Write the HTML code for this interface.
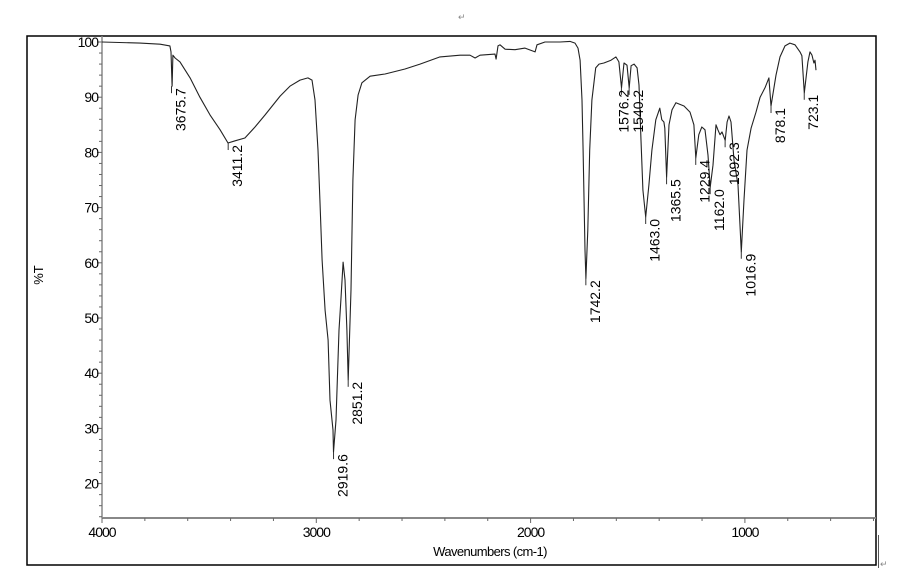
<!DOCTYPE html>
<html><head><meta charset="utf-8"><style>
html,body{margin:0;padding:0;background:#fff;}
svg{display:block;font-family:"Liberation Sans",sans-serif;}
</style></head><body>
<svg id="chart" width="900" height="569" viewBox="0 0 900 569">
<text x="458" y="20" font-size="9" fill="#888">↵</text>
<rect x="27" y="36" width="849" height="529" fill="none" stroke="#000" stroke-width="1.5"/>
<line x1="878.5" y1="535" x2="878.5" y2="568" stroke="#555" stroke-width="1"/>
<text x="880" y="567" font-size="9" fill="#888">↵</text>
<g id="axes"></g>
<g id="series"></g>
<g id="labels"></g>
<text x="490" y="556" font-size="13" text-anchor="middle" letter-spacing="-0.6">Wavenumbers (cm-1)</text>
<text transform="translate(43,275) rotate(-90)" font-size="13" text-anchor="middle">%T</text>
</svg>
<script>
const xTicks=[4000,3000,2000,1000];
const yTicks=[100,90,80,70,60,50,40,30,20];
const wavenumbers=[4000,3823,3729,3683,3678,3673,3669,3659,3636,3589,3543,3496,3449,3412,3379,3333,3286,3239,3169,3123,3076,3039,3020,3006,2992,2983,2973,2959,2945,2936,2922,2919.6,2908,2894,2885,2875,2866,2857,2851,2838,2829,2819,2805,2787,2749,2679,2586,2516,2423,2329,2283,2259,2236,2166,2161,2152,2143,2119,2073,2026,1979,1970,1933,1863,1816,1793,1779,1769,1760,1755,1746,1742,1733,1724,1714,1696,1681,1658,1625,1602,1588,1576,1564,1550,1540,1531,1517,1503,1494,1485,1476,1463,1448,1434,1416,1397,1388,1378,1374,1365.5,1354,1340,1322,1284,1256,1238,1229,1215,1201,1186,1172,1162,1149,1135,1126,1116,1107,1092,1083,1074,1065,1051,1032,1017,1004,990,971,948,929,906,888,878,855,836,813,790,766,743,734,723,706,696,687,678,673,668];
const transmittance=[100,99.8,99.6,99.3,98.2,92.0,97.6,97.1,96.4,93.5,90.0,86.8,84.1,81.7,82.1,82.6,84.6,86.8,90.2,92.0,93.1,93.5,93.1,89.5,80.4,71.4,60.5,51.4,46.0,35.1,29.7,25.7,31.5,47.8,53.3,60.1,56.9,47.8,38.8,55.1,75.0,85.9,90.4,92.6,93.8,94.2,95.1,96.0,97.3,97.6,97.6,97.1,97.6,97.8,96.9,99.3,99.5,98.7,98.6,98.9,98.2,99.5,100,100,100.1,99.8,98.9,96.7,89.5,80.4,62.3,57.2,65.9,80.4,89.5,95.3,96.0,96.2,96.7,97.3,96.4,91.7,96.2,95.8,91.7,95.7,96.0,95.3,92.2,82.2,73.2,68.3,74.1,80.4,85.9,88.0,85.9,85.5,84.4,75.5,85.0,87.7,89.0,88.4,87.3,85.0,79.0,83.2,84.6,84.1,79.5,73.7,77.7,85.0,84.1,83.2,83.7,82.2,85.5,86.6,85.5,78.6,74.1,62.0,71.4,80.4,84.4,87.3,90.0,91.7,93.5,88.4,94.0,97.3,99.3,99.8,99.5,98.2,97.5,90.8,96.4,98.2,97.6,96.2,96.7,94.9];
const peakLabels=["3675.7","3411.2","2919.6","2851.2","1742.2","1576.2","1540.2","1463.0","1365.5","1229.4","1162.0","1092.3","1016.9","878.1","723.1"];
const peakWn=[3675.7,3411.2,2919.6,2851.2,1742.2,1576.2,1540.2,1463.0,1365.5,1229.4,1162.0,1092.3,1016.9,878.1,723.1];
const peakT=[92.0,81.7,25.7,38.8,57.2,91.7,91.7,68.3,75.5,79.0,73.7,82.2,62.0,88.4,90.8];
const labelNudge=[0,0,0,0,0,-7,0,0,0,0,0,0,0,0,0];

const NS="http://www.w3.org/2000/svg";
const X0=102,X1=876,Y0=36,Y1=518;
function xs(w){return 102+(4000-w)*0.2143;}
function ys(t){return 42+(100-t)*5.52;}
function mk(tag,attrs,parent){const e=document.createElementNS(NS,tag);for(const k in attrs)e.setAttribute(k,attrs[k]);parent.appendChild(e);return e;}
const axes=document.getElementById('axes');
let l=mk('line',{x1:X0,y1:Y0,x2:X0,y2:Y1,stroke:'#888','stroke-width':1.5},axes);


l=mk('line',{x1:X0,y1:Y1,x2:X1,y2:Y1,stroke:'#888','stroke-width':2},axes);


for(let t=14;t<=100;t+=2){
  const y=ys(t);const major=t%10===0;
  const tk=mk('line',{x1:X0-(major?5:3),y1:y,x2:X0,y2:y,stroke:'#666','stroke-width':1},axes);
  
  
}
for(let w=4000;w>=400;w-=200){
  const x=xs(w);const major=w%1000===0;
  const tk=mk('line',{x1:x,y1:Y1,x2:x,y2:Y1+(major?5:3),stroke:'#666','stroke-width':1},axes);
  
  
}
yTicks.forEach(t=>{
  const tx=mk('text',{x:X0-4,y:ys(t)+5,'font-size':14,'text-anchor':'end','letter-spacing':-1},axes);
  tx.textContent=t;
  
  
});
xTicks.forEach(w=>{
  const tx=mk('text',{x:xs(w),y:537,'font-size':14,'text-anchor':'middle','letter-spacing':-1},axes);
  tx.textContent=w;
  
  
});
const series=document.getElementById('series');
let d='';
wavenumbers.forEach((w,i)=>{d+=(i?'L':'M')+xs(w).toFixed(1)+' '+ys(transmittance[i]).toFixed(1);});
const p=mk('path',{d:d,fill:'none',stroke:'#222','stroke-width':1.1,'stroke-linejoin':'round'},series);


const labels=document.getElementById('labels');
peakLabels.forEach((s,i)=>{
  const x=xs(peakWn[i]),y=ys(peakT[i]);
  const m=mk('line',{x1:x,y1:y,x2:x,y2:y+7,stroke:'#333','stroke-width':1},labels);
  
  
  const tx=mk('text',{transform:`translate(${x+14+labelNudge[i]},${y+2}) rotate(-90)`,'font-size':14,'text-anchor':'end'},labels);
  tx.textContent=s;
  
  
});
</script>
</body></html>
